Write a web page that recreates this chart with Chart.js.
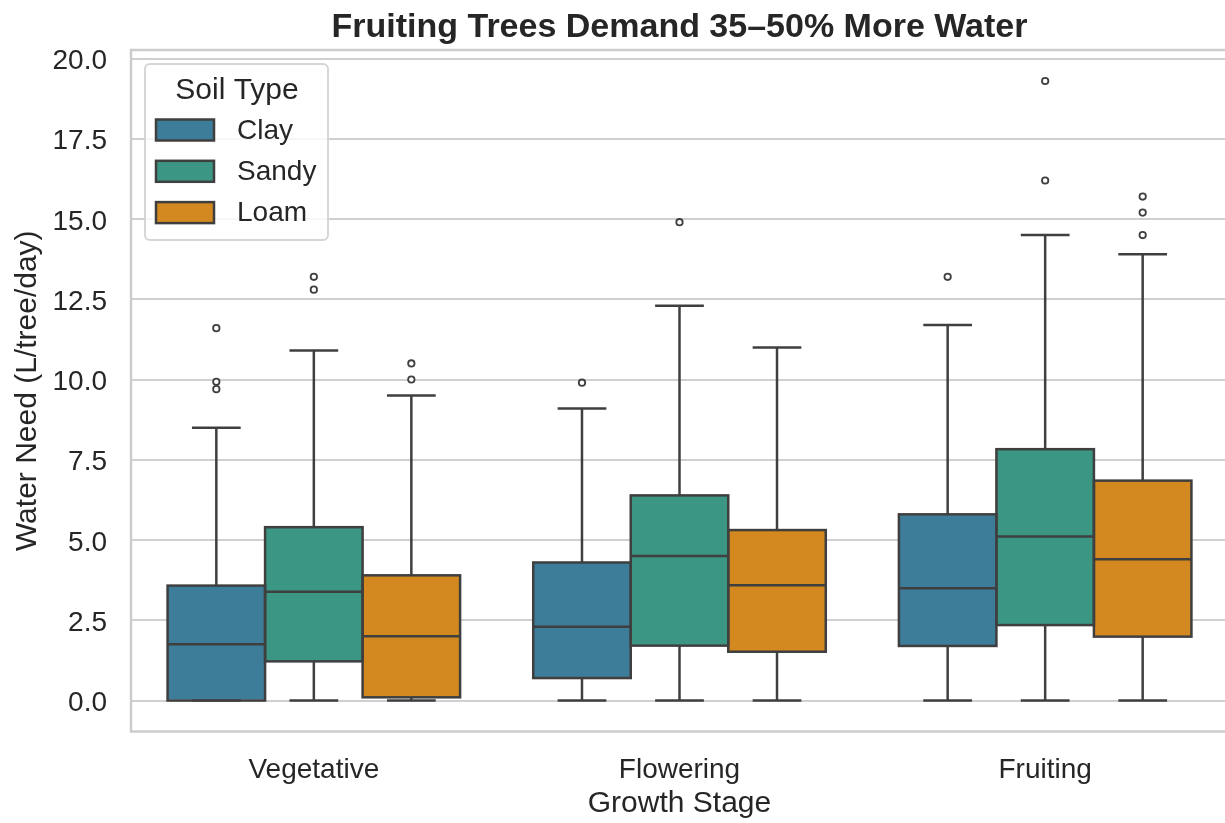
<!DOCTYPE html>
<html>
<head>
<meta charset="utf-8">
<script src="https://cdn.jsdelivr.net/npm/chart.js@4.4.1/dist/chart.umd.min.js"></script>
<style>
    html, body { margin: 0; padding: 0; background: #fff; overflow: hidden; }
    #wrap { width: 1228px; height: 823px; }
</style>
</head>
<body>
<div id="wrap"><canvas id="chart" width="1228" height="823"></canvas></div>
<script>
// ================= DATA =================
const chartTitle = "Fruiting Trees Demand 35\u201350% More Water";
const stages = ["Vegetative", "Flowering", "Fruiting"];
const soils = ["Clay", "Sandy", "Loam"];
const soilColors = ["#3d7d9a", "#3b9683", "#d3891f"];
const yTicks = [0, 2.5, 5, 7.5, 10, 12.5, 15, 17.5, 20];

// box stats per stage (Vegetative, Flowering, Fruiting)
const clayLow = [0, 0, 0];
const clayQ1 = [0.0, 0.70, 1.70];
const clayMed = [1.75, 2.30, 3.50];
const clayQ3 = [3.58, 4.30, 5.80];
const clayHigh = [8.50, 9.10, 11.70];
const clayOut = [[11.6, 9.93, 9.70], [9.9], [13.2]];

const sandyLow = [0, 0, 0];
const sandyQ1 = [1.22, 1.71, 2.35];
const sandyMed = [3.39, 4.50, 5.11];
const sandyQ3 = [5.40, 6.39, 7.83];
const sandyHigh = [10.9, 12.3, 14.5];
const sandyOut = [[13.2, 12.8], [14.9], [19.3, 16.2]];

const loamLow = [0, 0, 0];
const loamQ1 = [0.10, 1.52, 1.99];
const loamMed = [2.00, 3.59, 4.40];
const loamQ3 = [3.90, 5.31, 6.85];
const loamHigh = [9.5, 11.0, 13.9];
const loamOut = [[10.5, 10.0], [], [15.7, 15.2, 14.5]];

const stats = [
    { low: clayLow, q1: clayQ1, med: clayMed, q3: clayQ3, high: clayHigh, out: clayOut },
    { low: sandyLow, q1: sandyQ1, med: sandyMed, q3: sandyQ3, high: sandyHigh, out: sandyOut },
    { low: loamLow, q1: loamQ1, med: loamMed, q3: loamQ3, high: loamHigh, out: loamOut }
];

const FONT = "'Liberation Sans', Arial, Helvetica, sans-serif";
const TEXT = "#262626";
const EDGE = "#3f3f3f";
const SPINE = "#cccccc";

// ================= PLUGINS =================
const spinePlugin = {
    id: "spines",
    beforeDatasetsDraw(chart) {
        const { ctx, chartArea: a } = chart;
        ctx.save();
        ctx.strokeStyle = SPINE;
        ctx.lineWidth = 2.5;
        ctx.strokeRect(a.left, a.top, a.right - a.left, a.bottom - a.top);
        ctx.restore();
    }
};

// title centred over the plot area (like matplotlib)
const titlePlugin = {
    id: "axTitle",
    afterDraw(chart) {
        const { ctx, chartArea: a } = chart;
        ctx.save();
        ctx.fillStyle = TEXT;
        ctx.font = "bold 34px " + FONT;
        ctx.textAlign = "center";
        ctx.textBaseline = "alphabetic";
        ctx.fillText(chartTitle, (a.left + a.right) / 2, 37);
        ctx.restore();
    }
};

const boxPlugin = {
    id: "boxparts",
    afterDatasetsDraw(chart) {
        const { ctx } = chart;
        const y = chart.scales.y;
        ctx.save();
        ctx.strokeStyle = EDGE;
        ctx.lineCap = "butt";
        const line = (x1, y1, x2, y2) => {
            ctx.beginPath();
            ctx.moveTo(x1, y1);
            ctx.lineTo(x2, y2);
            ctx.stroke();
        };
        stats.forEach((s, i) => {
            const meta = chart.getDatasetMeta(i);
            meta.data.forEach((bar, k) => {
                const { x, width } = bar.getProps(["x", "width"], true);
                const cap = width / 4;
                const pLow = y.getPixelForValue(s.low[k]);
                const pQ1 = y.getPixelForValue(s.q1[k]);
                const pMed = y.getPixelForValue(s.med[k]);
                const pQ3 = y.getPixelForValue(s.q3[k]);
                const pHigh = y.getPixelForValue(s.high[k]);
                ctx.lineWidth = 2.5;
                // whiskers and caps
                line(x, pQ3, x, pHigh);
                line(x, pQ1, x, pLow);
                line(x - cap, pHigh, x + cap, pHigh);
                line(x - cap, pLow, x + cap, pLow);
                // box outline, centred on the edges
                ctx.strokeRect(x - width / 2, pQ3, width, pQ1 - pQ3);
                // median
                line(x - width / 2, pMed, x + width / 2, pMed);
                // outliers
                ctx.lineWidth = 1.8;
                s.out[k].forEach(v => {
                    ctx.beginPath();
                    ctx.arc(x, y.getPixelForValue(v), 3.2, 0, Math.PI * 2);
                    ctx.fillStyle = "#ffffff";
                    ctx.fill();
                    ctx.stroke();
                });
            });
        });
        ctx.restore();
    }
};

const legendPlugin = {
    id: "soilLegend",
    afterDraw(chart) {
        const { ctx, chartArea: a } = chart;
        const lx = a.left + 14, ly = a.top + 14, lw = 183, lh = 176;
        ctx.save();
        ctx.beginPath();
        ctx.roundRect(lx, ly, lw, lh, 5);
        ctx.fillStyle = "rgba(255,255,255,0.8)";
        ctx.fill();
        ctx.strokeStyle = "#d6d6d6";
        ctx.lineWidth = 2;
        ctx.stroke();

        ctx.fillStyle = TEXT;
        ctx.font = "30px " + FONT;
        ctx.textAlign = "center";
        ctx.textBaseline = "alphabetic";
        ctx.fillText("Soil Type", lx + 92, ly + 35);

        ctx.font = "28px " + FONT;
        ctx.textAlign = "left";
        ctx.textBaseline = "middle";
        soils.forEach((name, i) => {
            const cy = ly + 66 + i * 41.3;
            ctx.fillStyle = soilColors[i];
            ctx.fillRect(lx + 11, cy - 10.5, 58, 21);
            ctx.strokeStyle = EDGE;
            ctx.lineWidth = 2.5;
            ctx.strokeRect(lx + 11, cy - 10.5, 58, 21);
            ctx.fillStyle = TEXT;
            ctx.fillText(name, lx + 92, cy + 1);
        });
        ctx.restore();
    }
};

// ================= CHART =================
const datasets = soils.map((name, i) => ({
    label: name,
    data: stages.map((_, k) => [stats[i].q1[k], stats[i].q3[k]]),
    backgroundColor: soilColors[i],
    borderWidth: 0,
    categoryPercentage: 0.8,
    barPercentage: 1.0
}));

new Chart(document.getElementById("chart"), {
    type: "bar",
    data: { labels: stages, datasets: datasets },
    plugins: [spinePlugin, boxPlugin, legendPlugin, titlePlugin],
    options: {
        responsive: false,
        animation: false,
        layout: { padding: { top: 50, left: 0, right: 0, bottom: 0 } },
        plugins: {
            legend: { display: false },
            tooltip: { enabled: false },
            title: { display: false }
        },
        scales: {
            x: {
                grid: { display: false },
                border: { display: false },
                ticks: { color: TEXT, font: { family: FONT, size: 28 }, padding: 14 },
                title: {
                    display: true,
                    text: "Growth Stage",
                    color: TEXT,
                    font: { family: FONT, size: 30, lineHeight: 1.2 },
                    padding: { top: 0, bottom: 1 }
                },
                afterFit: s => { s.height = 91.5; }
            },
            y: {
                min: -0.965,
                max: 20.265,
                grid: { color: "#d0d0d0", lineWidth: 2, drawTicks: false },
                border: { display: false },
                ticks: {
                    color: TEXT,
                    font: { family: FONT, size: 28 },
                    padding: 24,
                    labelOffset: 3,
                    callback: v => Number(v).toFixed(1)
                },
                afterBuildTicks: s => { s.ticks = yTicks.map(v => ({ value: v })); },
                title: {
                    display: true,
                    text: "Water Need (L/tree/day)",
                    color: TEXT,
                    font: { family: FONT, size: 30, lineHeight: 1.2 },
                    padding: { top: 10, bottom: 0 }
                },
                afterFit: s => { s.width = 131; }
            }
        }
    }
});
</script>
</body>
</html>
